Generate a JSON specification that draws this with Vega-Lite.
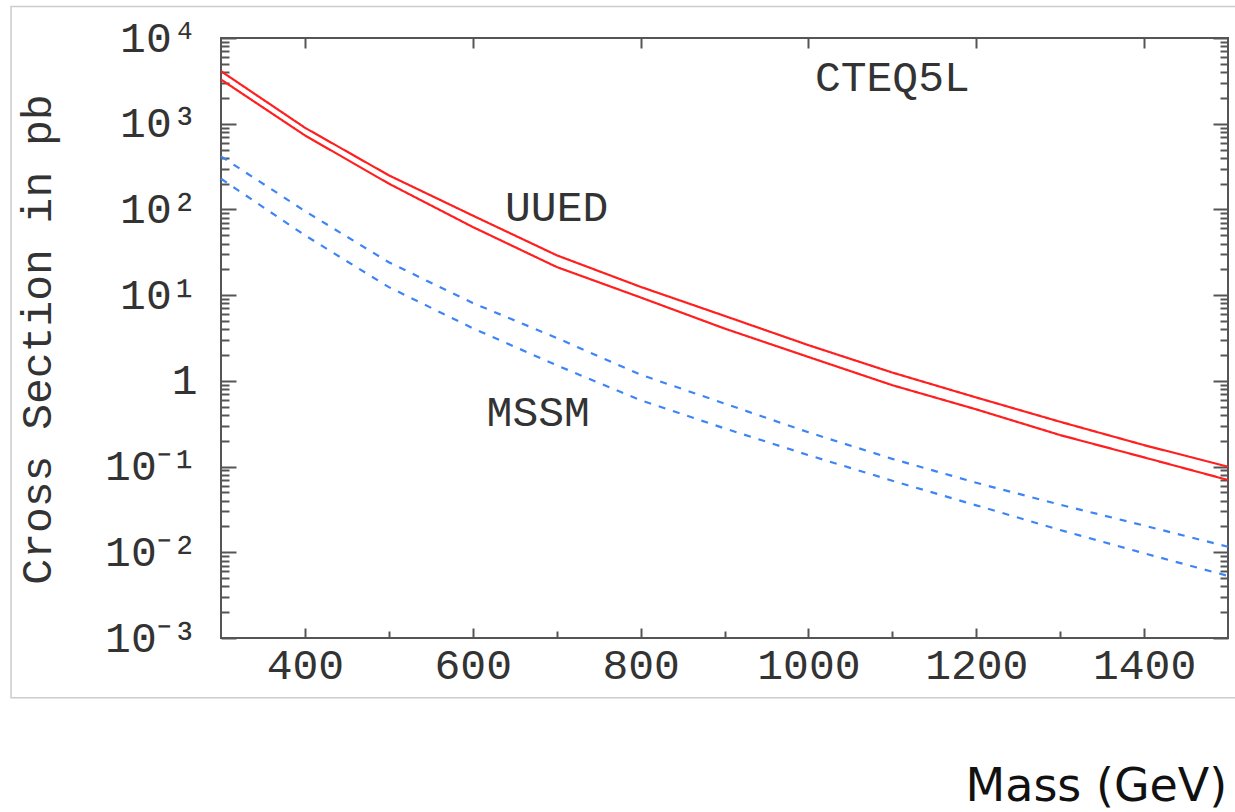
{
  "$schema": "https://vega.github.io/schema/vega-lite/v6.json",
  "autosize": "none",
  "padding": {"left": 221, "top": 38, "right": 7, "bottom": 174},
  "width": 1007,
  "height": 600,
  "background": "white",
  "config": {
    "view": {"stroke": "#555555", "strokeWidth": 2},
    "axis": {"grid": false, "labelFlush": false, "labelOverlap": false, "tickColor": "#555555", "tickWidth": 2}
  },
  "data": {
    "values": [
      {"mass": 300, "UUED upper": 4100, "UUED lower": 3280, "MSSM upper": 416, "MSSM lower": 228},
      {"mass": 400, "UUED upper": 898, "UUED lower": 731, "MSSM upper": 95.7, "MSSM lower": 49.9},
      {"mass": 500, "UUED upper": 250, "UUED lower": 200, "MSSM upper": 24.2, "MSSM lower": 12.4},
      {"mass": 600, "UUED upper": 84.8, "UUED lower": 62.4, "MSSM upper": 8.1, "MSSM lower": 4.11},
      {"mass": 700, "UUED upper": 29.2, "UUED lower": 21.3, "MSSM upper": 3.17, "MSSM lower": 1.52},
      {"mass": 800, "UUED upper": 12.5, "UUED lower": 9.4, "MSSM upper": 1.18, "MSSM lower": 0.595},
      {"mass": 900, "UUED upper": 5.73, "UUED lower": 4.08, "MSSM upper": 0.544, "MSSM lower": 0.279},
      {"mass": 1000, "UUED upper": 2.61, "UUED lower": 1.9, "MSSM upper": 0.251, "MSSM lower": 0.136},
      {"mass": 1100, "UUED upper": 1.25, "UUED lower": 0.89, "MSSM upper": 0.123, "MSSM lower": 0.0684},
      {"mass": 1200, "UUED upper": 0.64, "UUED lower": 0.465, "MSSM upper": 0.0647, "MSSM lower": 0.0353},
      {"mass": 1300, "UUED upper": 0.333, "UUED lower": 0.233, "MSSM upper": 0.0359, "MSSM lower": 0.0182},
      {"mass": 1400, "UUED upper": 0.178, "UUED lower": 0.128, "MSSM upper": 0.0205, "MSSM lower": 0.00973},
      {"mass": 1500, "UUED upper": 0.0995, "UUED lower": 0.0697, "MSSM upper": 0.0116, "MSSM lower": 0.0053}
    ]
  },
  "resolve": {"axis": {"x": "independent", "y": "independent"}},
  "layer": [
    {
      "data": {"values": [{}]},
      "mark": {"type": "rect", "fill": null, "stroke": "#cccccc", "strokeWidth": 1.5},
      "encoding": {
        "x": {"datum": 49.8, "type": "quantitative", "scale": {"domain": [300, 1500], "nice": false, "zero": false}, "axis": null},
        "x2": {"datum": 1525},
        "y": {"datum": 23300, "type": "quantitative", "scale": {"type": "log", "domain": [0.001, 10000], "nice": false}, "axis": null},
        "y2": {"datum": 0.000201}
      }
    },
    {
      "transform": [
        {"fold": ["UUED upper", "UUED lower", "MSSM upper", "MSSM lower"], "as": ["curve", "xsec"]}
      ],
      "mark": {"type": "line", "strokeWidth": 2.2},
      "encoding": {
        "x": {
          "field": "mass", "type": "quantitative",
          "scale": {"domain": [300, 1500], "nice": false, "zero": false},
          "axis": {
            "orient": "bottom", "values": [400, 600, 800, 1000, 1200, 1400], "format": "d",
            "ticks": false, "tickSize": 0, "domain": false, "labelPadding": 6,
            "labelFont": "Liberation Mono", "labelFontSize": 43, "labelColor": "#333333",
            "title": "Mass (GeV)", "titleFont": "DejaVu Sans", "titleFontSize": 46, "titleFontWeight": "normal",
            "titleColor": "#111111", "titleX": 744, "titleY": 162, "titleAlign": "left", "titleBaseline": "alphabetic", "titleAngle": 0
          }
        },
        "y": {
          "field": "xsec", "type": "quantitative", "title": "Cross Section in pb",
          "scale": {"type": "log", "domain": [0.001, 10000], "nice": false},
          "axis": {
            "orient": "left", "values": [0.001, 0.01, 0.1, 1, 10, 100, 1000, 10000],
            "labelExpr": "datum.value == 10000 ? '10⁴' : datum.value == 1000 ? '10³' : datum.value == 100 ? '10²' : datum.value == 10 ? '10¹' : datum.value == 1 ? '1' : datum.value == 0.1 ? '10⁻¹' : datum.value == 0.01 ? '10⁻²' : '10⁻³'",
            "ticks": false, "tickSize": 0, "domain": false, "labelPadding": 24,
            "labelFont": "Liberation Mono", "labelFontSize": 43, "labelColor": "#333333",
            "titleFont": "Liberation Mono", "titleFontSize": 43, "titleFontWeight": "normal",
            "titleColor": "#333333", "titleX": -171, "titleY": 301, "titleAlign": "center", "titleBaseline": "alphabetic", "titleAngle": -90
          }
        },
        "color": {
          "field": "curve", "type": "nominal",
          "scale": {"domain": ["UUED upper", "UUED lower", "MSSM upper", "MSSM lower"], "range": ["#ff1f1f", "#ff1f1f", "#3d85f5", "#3d85f5"]},
          "legend": null
        },
        "strokeDash": {
          "field": "curve", "type": "nominal",
          "scale": {"domain": ["UUED upper", "UUED lower", "MSSM upper", "MSSM lower"], "range": [[1, 0], [1, 0], [7, 8], [7, 8]]},
          "legend": null
        }
      }
    },
    {
      "mark": {"type": "point", "opacity": 0},
      "encoding": {
        "x": {"field": "mass", "type": "quantitative", "axis": {"orient": "bottom", "values": [400, 600, 800, 1000, 1200, 1400], "tickSize": -10, "labels": false, "domain": false, "title": null}},
        "y": {"field": "UUED upper", "type": "quantitative", "axis": {"orient": "left", "values": [0.001, 0.01, 0.1, 1, 10, 100, 1000, 10000], "tickSize": -15, "labels": false, "domain": false, "title": null}}
      }
    },
    {
      "mark": {"type": "point", "opacity": 0},
      "encoding": {
        "x": {"field": "mass", "type": "quantitative", "axis": {"orient": "bottom", "values": [500, 700, 900, 1100, 1300], "tickSize": -7, "labels": false, "domain": false, "title": null}},
        "y": {"field": "UUED upper", "type": "quantitative", "axis": {"orient": "left", "values": [0.002, 0.003, 0.004, 0.005, 0.006, 0.007, 0.008, 0.009, 0.02, 0.03, 0.04, 0.05, 0.06, 0.07, 0.08, 0.09, 0.2, 0.3, 0.4, 0.5, 0.6, 0.7, 0.8, 0.9, 2, 3, 4, 5, 6, 7, 8, 9, 20, 30, 40, 50, 60, 70, 80, 90, 200, 300, 400, 500, 600, 700, 800, 900, 2000, 3000, 4000, 5000, 6000, 7000, 8000, 9000], "tickSize": -8, "labels": false, "domain": false, "title": null}}
      }
    },
    {
      "mark": {"type": "point", "opacity": 0},
      "encoding": {
        "x": {"field": "mass", "type": "quantitative", "axis": {"orient": "top", "values": [400, 600, 800, 1000, 1200, 1400], "tickSize": -10, "labels": false, "domain": false, "title": null}},
        "y": {"field": "UUED upper", "type": "quantitative", "axis": {"orient": "right", "values": [0.001, 0.01, 0.1, 1, 10, 100, 1000, 10000], "tickSize": -15, "labels": false, "domain": false, "title": null}}
      }
    },
    {
      "mark": {"type": "point", "opacity": 0},
      "encoding": {
        "x": {"field": "mass", "type": "quantitative", "axis": null},
        "y": {"field": "UUED upper", "type": "quantitative", "axis": {"orient": "right", "values": [0.002, 0.003, 0.004, 0.005, 0.006, 0.007, 0.008, 0.009, 0.02, 0.03, 0.04, 0.05, 0.06, 0.07, 0.08, 0.09, 0.2, 0.3, 0.4, 0.5, 0.6, 0.7, 0.8, 0.9, 2, 3, 4, 5, 6, 7, 8, 9, 20, 30, 40, 50, 60, 70, 80, 90, 200, 300, 400, 500, 600, 700, 800, 900, 2000, 3000, 4000, 5000, 6000, 7000, 8000, 9000], "tickSize": -8, "labels": false, "domain": false, "title": null}}
      }
    },
    {
      "data": {"values": [{}]},
      "mark": {"type": "text", "text": "CTEQ5L", "font": "Liberation Mono", "fontSize": 43, "fontWeight": "normal", "fill": "#333333", "align": "center", "baseline": "middle"},
      "encoding": {
        "x": {"datum": 1100, "type": "quantitative", "axis": null},
        "y": {"datum": 3370, "type": "quantitative", "axis": null}
      }
    },
    {
      "data": {"values": [{}]},
      "mark": {"type": "text", "text": "UUED", "font": "Liberation Mono", "fontSize": 43, "fontWeight": "normal", "fill": "#333333", "align": "center", "baseline": "middle"},
      "encoding": {
        "x": {"datum": 700, "type": "quantitative", "axis": null},
        "y": {"datum": 103, "type": "quantitative", "axis": null}
      }
    },
    {
      "data": {"values": [{}]},
      "mark": {"type": "text", "text": "MSSM", "font": "Liberation Mono", "fontSize": 43, "fontWeight": "normal", "fill": "#333333", "align": "center", "baseline": "middle"},
      "encoding": {
        "x": {"datum": 678, "type": "quantitative", "axis": null},
        "y": {"datum": 0.417, "type": "quantitative", "axis": null}
      }
    }
  ]
}
